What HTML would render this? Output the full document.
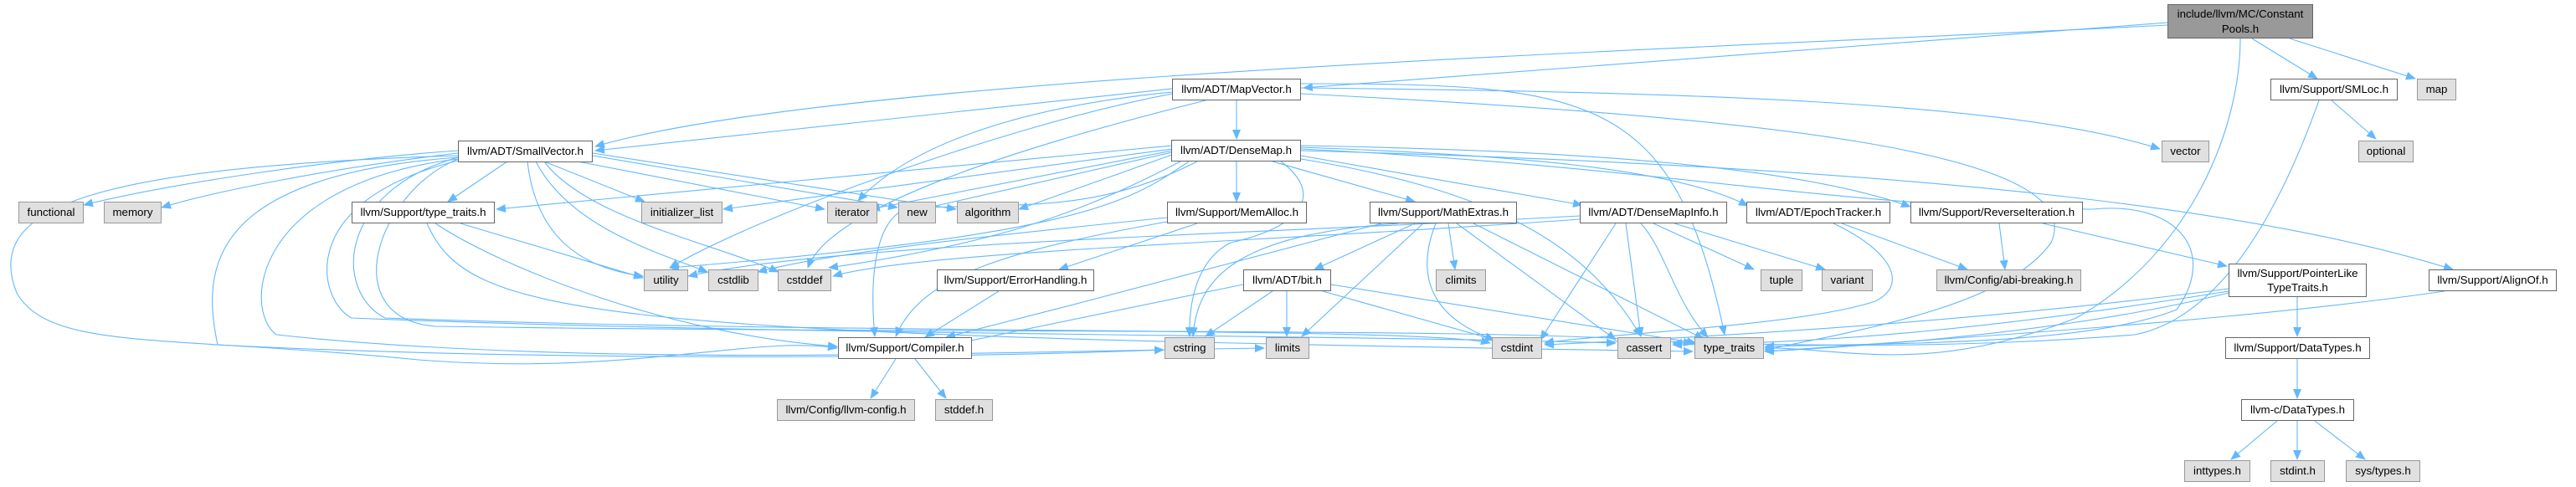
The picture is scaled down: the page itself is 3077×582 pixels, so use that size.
<!DOCTYPE html>
<html><head><meta charset="utf-8"><style>
html,body{margin:0;padding:0;background:#fff;}
body{width:3077px;height:582px;position:relative;overflow:hidden;}
.n{position:absolute;box-sizing:border-box;border:1px solid #666;background:#fff;font-family:"Liberation Sans",Arial,sans-serif;font-size:13.3px;color:#000;text-align:center;line-height:24px;height:26px;white-space:nowrap;}
.g{background:#e0e0e0;border-color:#999;}
svg{position:absolute;left:0;top:0;}
</style></head><body>
<svg width="3077" height="582" viewBox="0 0 3077 582">
<defs><marker id="a" markerUnits="userSpaceOnUse" markerWidth="12" markerHeight="10" refX="11" refY="5" orient="auto"><path d="M0,0 L12,5 L0,10 z" fill="#63b8ff"/></marker></defs>
<g fill="none" stroke="#63b8ff" stroke-width="1.1" marker-end="url(#a)">
<!-- ConstantPools -->
<path d="M2589,27 L1557,105"/>
<path d="M2589,30 C2000,60 1000,90 711,175"/>
<path d="M2690,46 L2768,94"/>
<path d="M2735,46 L2885,94"/>
<path d="M2676,46 C2676,150 2620,300 2480,380 C2300,450 2200,415 2108,416"/>
<!-- MapVector -->
<path d="M1477,120 L1477,166"/>
<path d="M1400,106 L711,180"/>
<path d="M1554,105 C2000,110 2400,120 2580,178"/>
<path d="M1554,112 C2100,140 2500,180 2450,290 C2400,360 2250,390 2108,418"/>
<path d="M1400,110 C1200,130 1080,180 1025,240"/>
<path d="M1400,112 C1200,150 900,260 800,320"/>
<path d="M1440,120 C1200,180 990,250 965,320"/>
<path d="M1554,100 C1900,100 2000,110 2060,400"/>
<!-- SmallVector -->
<path d="M547,180 C400,190 200,220 100,245"/>
<path d="M547,183 C400,200 250,230 193,248"/>
<path d="M606,193 L535,241"/>
<path d="M650,193 L770,241"/>
<path d="M690,193 L985,250"/>
<path d="M708,186 L1072,248"/>
<path d="M708,183 L1142,250"/>
<path d="M630,193 C640,280 690,320 768,330"/>
<path d="M640,193 C680,270 780,300 845,325"/>
<path d="M650,193 C700,260 850,290 930,325"/>
<path d="M547,186 C100,200 -20,250 20,350 C60,420 200,400 500,430 C750,450 900,400 1000,416"/>
<path d="M547,188 C250,210 240,320 260,412 C600,430 1100,430 1390,418"/>
<path d="M547,190 C300,220 290,370 330,400 C700,440 1200,420 1510,416"/>
<path d="M547,192 C350,240 380,360 420,380 C900,400 1600,400 1930,410"/>
<path d="M547,188 C400,230 400,350 460,380 C1000,400 1700,390 1780,410"/>
<path d="M547,190 C450,230 400,380 520,390 C1200,400 1800,390 2022,410"/>
<!-- type_traits.h -->
<path d="M550,267 L768,332"/>
<path d="M520,267 C600,320 800,400 1000,414"/>
<path d="M510,267 C560,380 700,400 2022,420"/>
<!-- DenseMap -->
<path d="M1400,174 C1000,210 700,240 593,250"/>
<path d="M1400,178 L864,250"/>
<path d="M1400,180 L1040,250"/>
<path d="M1400,182 L1100,250"/>
<path d="M1400,185 L1217,250"/>
<path d="M1477,193 L1477,241"/>
<path d="M1520,193 L1690,241"/>
<path d="M1554,186 L1890,245"/>
<path d="M1554,176 C1800,185 2000,200 2088,246"/>
<path d="M1554,174 C1900,180 2150,200 2282,247"/>
<path d="M1554,180 C2300,200 2700,250 2930,322"/>
<path d="M1530,193 C1580,230 1560,270 1470,290 C1430,310 1420,360 1421,402"/>
<path d="M1554,190 C1800,230 1900,300 1960,402"/>
<path d="M1554,178 C2000,200 2200,250 2500,250 C2600,240 2650,300 2600,370 C2500,410 2300,410 2108,414"/>
<path d="M1420,193 C1350,240 1300,280 800,320"/>
<path d="M1410,193 C1300,250 1200,290 990,320"/>
<path d="M1430,193 C1300,260 1200,240 1080,250 C1040,270 1040,350 1045,402"/>
<!-- MemAlloc -->
<path d="M1394,260 C1200,280 1000,300 905,325"/>
<path d="M1430,267 L1265,322"/>
<path d="M1394,265 C1200,300 1100,330 1070,402"/>
<!-- ErrorHandling -->
<path d="M1193,348 L1105,403"/>
<!-- MathExtras -->
<path d="M1690,267 L1570,322"/>
<path d="M1730,267 L1738,322"/>
<path d="M1650,267 C1450,320 1300,360 1130,403"/>
<path d="M1670,267 C1480,280 1430,330 1425,402"/>
<path d="M1700,267 L1555,402"/>
<path d="M1715,267 C1690,330 1710,380 1785,406"/>
<path d="M1740,267 L1930,406"/>
<path d="M1760,267 L2035,405"/>
<!-- bit -->
<path d="M1485,340 L1145,410"/>
<path d="M1520,348 L1440,402"/>
<path d="M1537,348 L1537,402"/>
<path d="M1580,348 L1785,406"/>
<path d="M1590,340 L2026,410"/>
<!-- DenseMapInfo -->
<path d="M1930,267 L1840,406"/>
<path d="M1942,267 L1960,402"/>
<path d="M1960,267 C1990,300 2000,360 2040,403"/>
<path d="M1975,267 L2095,322"/>
<path d="M2000,267 L2180,322"/>
<path d="M1887,262 C1500,290 1100,300 995,330"/>
<path d="M1887,258 C1500,280 1000,290 822,330"/>
<!-- Epoch -->
<path d="M2200,267 L2350,322"/>
<path d="M2190,267 C2260,300 2280,340 2240,360 C2150,390 1900,400 1845,410"/>
<!-- Reverse -->
<path d="M2388,267 L2395,322"/>
<path d="M2440,267 L2660,318"/>
<!-- PLTT / AlignOf / SMLoc -->
<path d="M2744,355 L2744,402"/>
<path d="M2662,345 C2400,380 2100,400 1845,412"/>
<path d="M2662,348 C2400,390 2200,410 1998,412"/>
<path d="M2662,350 C2500,390 2300,410 2108,420"/>
<path d="M2920,348 C2700,380 2400,400 2108,420"/>
<path d="M2785,120 L2838,166"/>
<path d="M2770,120 C2720,260 2650,380 2550,400 C2300,420 2100,410 1998,410"/>
<!-- DataTypes -->
<path d="M2744,429 L2744,476"/>
<path d="M2720,503 L2665,549"/>
<path d="M2744,503 L2744,549"/>
<path d="M2765,503 L2825,549"/>
<!-- Compiler -->
<path d="M1070,429 L1040,476"/>
<path d="M1093,429 L1130,476"/>
</g>
</svg>
<div class="n" style="left:2589px;top:5px;width:174px;height:41px;line-height:18px;padding-top:2px;background:#999;border-color:#666">include/llvm/MC/Constant<br>Pools.h</div>
<div class="n" style="left:1400px;top:94px;width:154px">llvm/ADT/MapVector.h</div>
<div class="n" style="left:2712px;top:94px;width:152px">llvm/Support/SMLoc.h</div>
<div class="n g" style="left:2887px;top:94px;width:47px">map</div>
<div class="n" style="left:547px;top:168px;width:161px">llvm/ADT/SmallVector.h</div>
<div class="n" style="left:1399px;top:167px;width:155px">llvm/ADT/DenseMap.h</div>
<div class="n g" style="left:2582px;top:168px;width:57px">vector</div>
<div class="n g" style="left:2817px;top:168px;width:66px">optional</div>
<div class="n g" style="left:22px;top:241px;width:78px">functional</div>
<div class="n g" style="left:124px;top:241px;width:69px">memory</div>
<div class="n" style="left:420px;top:241px;width:171px">llvm/Support/type_traits.h</div>
<div class="n g" style="left:766px;top:241px;width:97px">initializer_list</div>
<div class="n g" style="left:988px;top:241px;width:60px">iterator</div>
<div class="n g" style="left:1073px;top:241px;width:45px">new</div>
<div class="n g" style="left:1143px;top:241px;width:74px">algorithm</div>
<div class="n" style="left:1394px;top:241px;width:167px">llvm/Support/MemAlloc.h</div>
<div class="n" style="left:1636px;top:241px;width:176px">llvm/Support/MathExtras.h</div>
<div class="n" style="left:1887px;top:241px;width:176px">llvm/ADT/DenseMapInfo.h</div>
<div class="n" style="left:2086px;top:241px;width:172px">llvm/ADT/EpochTracker.h</div>
<div class="n" style="left:2282px;top:241px;width:206px">llvm/Support/ReverseIteration.h</div>
<div class="n g" style="left:769px;top:322px;width:53px">utility</div>
<div class="n g" style="left:846px;top:322px;width:60px">cstdlib</div>
<div class="n g" style="left:929px;top:322px;width:64px">cstddef</div>
<div class="n" style="left:1119px;top:322px;width:188px">llvm/Support/ErrorHandling.h</div>
<div class="n" style="left:1485px;top:322px;width:105px">llvm/ADT/bit.h</div>
<div class="n g" style="left:1715px;top:322px;width:60px">climits</div>
<div class="n g" style="left:2103px;top:322px;width:50px">tuple</div>
<div class="n g" style="left:2176px;top:322px;width:61px">variant</div>
<div class="n g" style="left:2313px;top:322px;width:173px">llvm/Config/abi-breaking.h</div>
<div class="n" style="left:2662px;top:315px;width:165px;height:40px;line-height:17px;padding-top:2px">llvm/Support/PointerLike<br>TypeTraits.h</div>
<div class="n" style="left:2901px;top:322px;width:153px">llvm/Support/AlignOf.h</div>
<div class="n" style="left:1001px;top:403px;width:160px">llvm/Support/Compiler.h</div>
<div class="n g" style="left:1391px;top:403px;width:60px">cstring</div>
<div class="n g" style="left:1512px;top:403px;width:52px">limits</div>
<div class="n g" style="left:1782px;top:403px;width:60px">cstdint</div>
<div class="n g" style="left:1932px;top:403px;width:64px">cassert</div>
<div class="n g" style="left:2024px;top:403px;width:83px">type_traits</div>
<div class="n" style="left:2658px;top:403px;width:173px">llvm/Support/DataTypes.h</div>
<div class="n g" style="left:928px;top:477px;width:165px">llvm/Config/llvm-config.h</div>
<div class="n g" style="left:1117px;top:477px;width:69px">stddef.h</div>
<div class="n" style="left:2677px;top:477px;width:135px">llvm-c/DataTypes.h</div>
<div class="n g" style="left:2609px;top:550px;width:79px">inttypes.h</div>
<div class="n g" style="left:2712px;top:550px;width:65px">stdint.h</div>
<div class="n g" style="left:2802px;top:550px;width:89px">sys/types.h</div>
</body></html>
